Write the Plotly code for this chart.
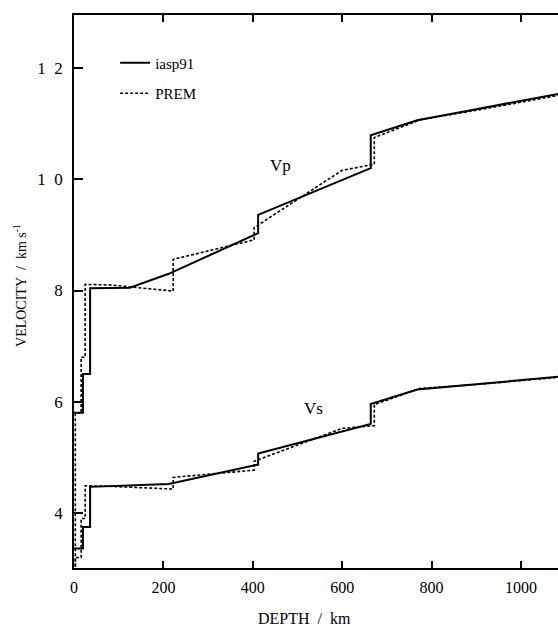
import plotly.graph_objects as go

# ---- data ----
iasp91_depth = [0, 20, 20, 36, 36, 125, 212, 412, 412, 664, 664, 768, 900, 1000, 1100]
iasp91_vp = [5.80, 5.80, 6.50, 6.50, 8.04, 8.05, 8.30, 9.03, 9.36, 10.20, 10.79, 11.06, 11.26, 11.41, 11.56]
iasp91_vs = [3.36, 3.36, 3.75, 3.75, 4.47, 4.50, 4.52, 4.87, 5.07, 5.60, 5.96, 6.22, 6.32, 6.39, 6.46]

prem_depth = [0, 3, 3, 16, 16, 25, 25, 80, 222, 222, 403, 403, 600, 672, 672, 775, 900, 1000, 1100]
prem_vp = [1.45, 1.45, 5.80, 5.80, 6.80, 6.80, 8.11, 8.10, 7.99, 8.56, 8.91, 9.13, 10.16, 10.27, 10.75, 11.07, 11.24, 11.39, 11.53]
prem_vs = [0.00, 0.00, 3.20, 3.20, 3.90, 3.90, 4.49, 4.48, 4.43, 4.64, 4.77, 4.93, 5.52, 5.57, 5.95, 6.24, 6.31, 6.38, 6.45]

x_ticks = [0, 200, 400, 600, 800, 1000]
x_tick_text = ["0", "200", "400", "600", "800", "1000"]
y_ticks = [4, 6, 8, 10, 12]
y_tick_text = ["4", "6", "8", "1\u00a0\u00a00", "1\u00a0\u00a02"]

FONT = "Liberation Serif, Times New Roman, serif"

fig = go.Figure()
fig.add_trace(go.Scatter(x=iasp91_depth, y=iasp91_vp, mode="lines", name="iasp91",
                         legendgroup="a", line=dict(color="black", width=2)))
fig.add_trace(go.Scatter(x=iasp91_depth, y=iasp91_vs, mode="lines", name="iasp91",
                         legendgroup="a", showlegend=False, line=dict(color="black", width=2)))
fig.add_trace(go.Scatter(x=prem_depth, y=prem_vp, mode="lines", name="PREM",
                         legendgroup="b", line=dict(color="black", width=1.6, dash="3px,2px")))
fig.add_trace(go.Scatter(x=prem_depth, y=prem_vs, mode="lines", name="PREM",
                         legendgroup="b", showlegend=False, line=dict(color="black", width=1.6, dash="3px,2px")))

fig.update_layout(
    width=558, height=626,
    margin=dict(l=74, r=0, t=15, b=58),
    paper_bgcolor="white", plot_bgcolor="white",
    font=dict(family=FONT, color="black", size=16),
    showlegend=True,
    legend=dict(x=0.085, y=0.943, xanchor="left", yanchor="top",
                bgcolor="rgba(0,0,0,0)", font=dict(family=FONT, size=15),
                traceorder="grouped", tracegroupgap=8, itemwidth=30),
    xaxis=dict(range=[0, 1083], tickvals=x_ticks, ticktext=x_tick_text,
               ticks="inside", ticklen=7, tickwidth=1.5, tickcolor="black",
               showline=True, linecolor="black", linewidth=1.8, mirror="ticks",
               showgrid=False, zeroline=False, ticklabelstandoff=4,
               tickfont=dict(family=FONT, size=16)),
    yaxis=dict(range=[3.011, 12.953], tickvals=y_ticks, ticktext=y_tick_text,
               ticks="inside", ticklen=9, tickwidth=1.5, tickcolor="black",
               showline=True, linecolor="black", linewidth=1.8, mirror=False,
               showgrid=False, zeroline=False, ticklabelstandoff=6,
               tickfont=dict(family=FONT, size=17)),
    annotations=[
        dict(text="Vp", x=461, y=10.24, xref="x", yref="y",
             showarrow=False, font=dict(family=FONT, size=17)),
        dict(text="Vs", x=535, y=5.87, xref="x", yref="y",
             showarrow=False, font=dict(family=FONT, size=17)),
        dict(text="VELOCITY\u00a0\u00a0/\u00a0\u00a0km\u00a0s<sup>-1</sup>", x=-0.1116, y=0.5118,
             xref="paper", yref="paper", textangle=-90, showarrow=False,
             xanchor="center", yanchor="middle", font=dict(family=FONT, size=14)),
        dict(text="DEPTH\u00a0\u00a0/\u00a0\u00a0km", x=0.477, y=-0.0922, xref="paper", yref="paper",
             showarrow=False, xanchor="center", yanchor="middle", font=dict(family=FONT, size=16)),
    ],
)

fig.write_html("out.html")
